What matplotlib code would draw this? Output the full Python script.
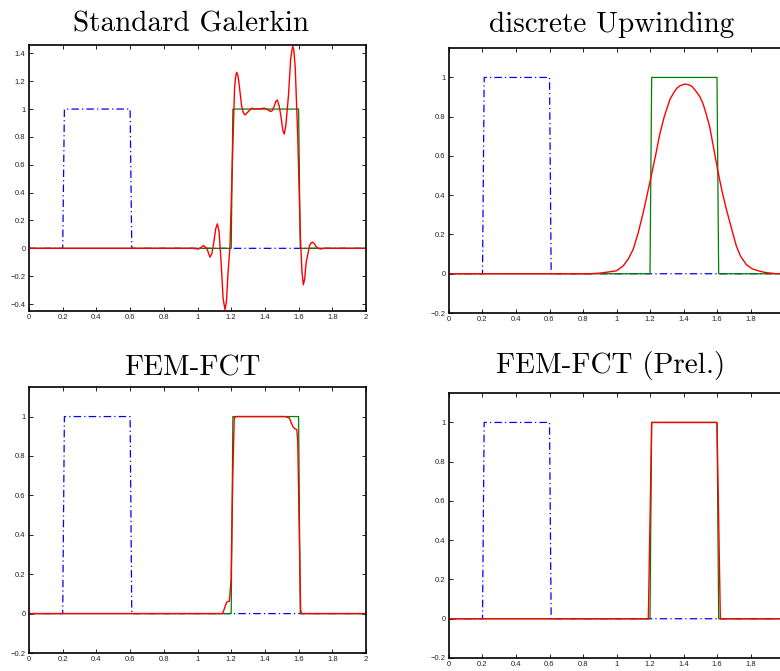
import matplotlib
matplotlib.use("Agg")
from matplotlib import pyplot as plt
from matplotlib.ticker import FuncFormatter

# initial condition (blue dash-dot) and exact solution (green)
init_x = [0, 0.2, 0.21, 0.6, 0.61, 2.0]
init_y = [0, 0, 1, 1, 0, 0]
exact_x = [0, 1.2, 1.21, 1.6, 1.61, 2.0]
exact_y = [0, 0, 1, 1, 0, 0]

# Standard Galerkin
gal_x = [0, 0.97, 1.005, 1.02, 1.035, 1.055, 1.074, 1.085, 1.095, 1.108, 1.118, 1.128,
         1.14, 1.152, 1.163, 1.172, 1.18, 1.193, 1.207, 1.22, 1.226, 1.232, 1.238, 1.245,
         1.262, 1.272, 1.282, 1.30, 1.321, 1.341, 1.361, 1.38, 1.40, 1.417, 1.434, 1.445,
         1.455, 1.465, 1.474, 1.485, 1.495, 1.507, 1.515, 1.524, 1.54, 1.553, 1.56, 1.565,
         1.571, 1.58, 1.595, 1.61, 1.62, 1.628, 1.636, 1.645, 1.665, 1.675, 1.684, 1.695,
         1.705, 1.727, 1.75, 2.0]
gal_y = [0, 0, -0.005, 0.005, 0.02, 0.0, -0.063, -0.04, 0.03, 0.14, 0.176, 0.12,
         -0.1, -0.36, -0.44, -0.38, -0.2, 0.02, 0.63, 1.15, 1.23, 1.264, 1.25, 1.2,
         1.02, 0.975, 0.958, 0.98, 1.006, 1.0, 1.0, 1.004, 1.006, 0.995, 0.982, 0.99,
         1.02, 1.055, 1.065, 1.02, 0.95, 0.845, 0.82, 0.88, 1.1, 1.36, 1.42, 1.45,
         1.43, 1.3, 0.8, 0.1, -0.17, -0.262, -0.22, -0.1, 0.02, 0.04, 0.044, 0.03,
         0.01, -0.005, 0, 0]

# discrete upwinding
upw_x = [0, 0.84, 0.90, 0.96, 1.0, 1.04, 1.07, 1.10, 1.13, 1.159, 1.185, 1.209, 1.235,
         1.258, 1.285, 1.318, 1.34, 1.36, 1.38, 1.407, 1.43, 1.45, 1.47, 1.497, 1.515,
         1.53, 1.556, 1.58, 1.606, 1.63, 1.656, 1.69, 1.716, 1.74, 1.775, 1.81, 1.855,
         1.88, 1.9, 1.954, 2.0]
upw_y = [0, 0, 0.003, 0.01, 0.015, 0.04, 0.075, 0.125, 0.21, 0.31, 0.41, 0.505, 0.61,
         0.71, 0.8, 0.886, 0.92, 0.945, 0.958, 0.966, 0.963, 0.955, 0.935, 0.903, 0.87,
         0.83, 0.75, 0.64, 0.52, 0.42, 0.328, 0.22, 0.14, 0.09, 0.047, 0.025, 0.013,
         0.008, 0.005, 0.0, 0.0]

# FEM-FCT
fct_x = [0, 1.149, 1.173, 1.189, 1.199, 1.209, 1.218, 1.23, 1.519, 1.545, 1.565, 1.579,
         1.589, 1.595, 1.602, 1.612, 1.618, 2.0]
fct_y = [0, 0, 0.058, 0.063, 0.17, 0.68, 0.993, 1.0, 1.0, 0.993, 0.95, 0.937,
         0.935, 0.88, 0.51, 0.02, 0, 0]

# FEM-FCT (Prel.)
prel_x = [0, 1.19, 1.21, 1.6, 1.62, 2.0]
prel_y = [0, 0, 1, 1, 0, 0]

titles = ["Standard Galerkin", "discrete Upwinding", "FEM-FCT", "FEM-FCT (Prel.)"]
reds = [(gal_x, gal_y), (upw_x, upw_y), (fct_x, fct_y), (prel_x, prel_y)]

W, H = 780, 671
fig = plt.figure(figsize=(W / 100, H / 100), dpi=100)

# axes boxes in pixels: left, top, right, bottom
boxes = [(29, 45, 366, 311), (449, 48, 784, 313), (29, 387, 366, 653), (449, 393, 784, 658)]
ylims = [(-0.45, 1.46), (-0.2, 1.15), (-0.2, 1.15), (-0.2, 1.15)]
yticks = [[-0.4 + 0.2 * i for i in range(10)], [-0.2 + 0.2 * i for i in range(7)],
          [-0.2 + 0.2 * i for i in range(7)], [-0.2 + 0.2 * i for i in range(7)]]
# title centre x and baseline y in pixels
title_pos = [(191, 32), (612, 32), (192, 375), (611, 373)]


def fmt(v, pos):
    s = "%g" % round(v, 2)
    return s.replace("-", "\u2212")


def fmt_cut(v, pos):
    # right-hand plots run past the figure edge, the "2" is not shown
    if abs(v - 2) < 1e-9:
        return ""
    return fmt(v, pos)


for i in range(4):
    l, t, r, b = boxes[i]
    ax = fig.add_axes([l / W, 1 - b / H, (r - l) / W, (b - t) / H])
    ax.plot(init_x, init_y, color="blue", linestyle=(0, (6, 2.5, 1, 2.5)), lw=0.9)
    ax.plot(exact_x, exact_y, color=(0, 0.5, 0), lw=0.9)
    ax.plot(reds[i][0], reds[i][1], color="red", lw=1.0)
    ax.set_xlim(0, 2)
    ax.set_ylim(*ylims[i])
    ax.set_xticks([0.2 * k for k in range(11)])
    ax.set_yticks(yticks[i])
    ax.xaxis.set_major_formatter(FuncFormatter(fmt if r <= W else fmt_cut))
    ax.yaxis.set_major_formatter(FuncFormatter(fmt))
    ax.tick_params(direction="in", top=True, right=True, length=3, width=0.6,
                   labelsize=5.5, labelcolor="#222222", pad=2.5)
    for sp in ax.spines.values():
        sp.set_linewidth(1.2)
    for lab in ax.get_xticklabels() + ax.get_yticklabels():
        lab.set_family(["Liberation Sans", "DejaVu Sans"])
    tx, ty = title_pos[i]
    fig.text(tx / W, 1 - ty / H, titles[i], ha="center", va="baseline",
             fontsize=21, family=["cmr10", "DejaVu Serif"])

fig.savefig("out.png", dpi=100)
